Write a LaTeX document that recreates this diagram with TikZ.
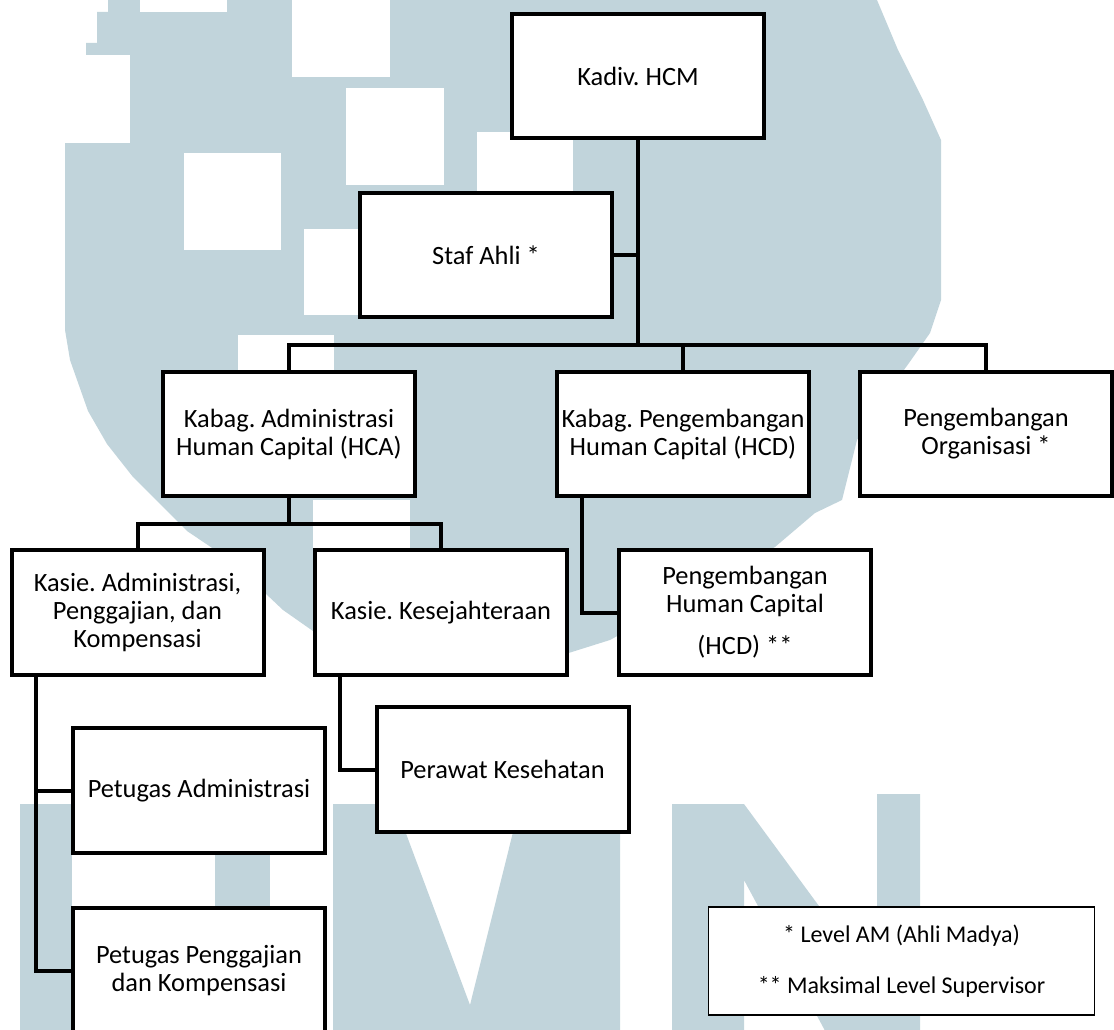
\documentclass[tikz,border=0pt]{standalone}
\usepackage{fontspec}
\setmainfont{Carlito}
\usepackage{tikz}
\usetikzlibrary{positioning, calc}
\definecolor{umnblue}{RGB}{193,212,219}
\newcommand{\orgfont}{\frenchspacing\fontsize{19.8pt}{21pt}\selectfont}
\newcommand{\notefont}{\frenchspacing\fontsize{18pt}{20pt}\selectfont}
\tikzset{
  orgbox/.style={rectangle, draw=black, line width=3pt, fill=white,
              minimum width=189pt, minimum height=93.5pt, inner sep=1pt, font=\orgfont, align=center},
  notebox/.style={rectangle, draw=black, line width=0.9pt, fill=white,
              minimum width=290pt, minimum height=81pt, font=\notefont, align=center},
  link/.style={line width=3pt, draw=black},
}

\begin{document}
\begin{tikzpicture}[x=0.75pt, y=-0.75pt]
  \useasboundingbox (0,0) rectangle (1114,1030);
  \clip (0,0) rectangle (1114,1030);
  \fill[umnblue] (108,-5) -- (108,12) -- (97,12) -- (97,43) -- (86,43) -- (86,143) -- (65,143)
    -- (65,330) -- (70,360) -- (88,411) -- (107,444) -- (133,477) -- (160,504) -- (187,531)
    -- (230,560) -- (283,610) -- (340,650) -- (445,672) -- (540,662) -- (610,640) -- (700,590)
    -- (775,547) -- (815,513) -- (842,500) -- (857,440) -- (882,400) -- (909,363) -- (930,333)
    -- (941,300) -- (941,140) -- (923,100) -- (898,50) -- (877,0) -- (877,-5) -- cycle;
  \foreach \xa/\ya/\xb/\yb in {292/-5/390/77, 346/88/444/185, 184/153/281/250, 304/229/400/315,
      477/132/573/228, 140/-60/227/12, 30/55/130/143, 238/335/334/372, 313/500/410/549}
    \fill[white] (\xa,\ya) rectangle (\xb,\yb);
  \fill[umnblue] (20,804) rectangle (72,1040);
  \fill[umnblue] (215,804) rectangle (270,1040);
  \fill[umnblue] (333,804) -- (395,804) -- (470,1005) -- (520,804) -- (620,804) -- (620,1040)
    -- (333,1040) -- cycle;
  \fill[umnblue] (672,804) -- (744,804) -- (877,985) -- (877,794) -- (920,794) -- (920,1040)
    -- (830,1040) -- (744,880) -- (744,1040) -- (672,1040) -- cycle;

  \node[orgbox] (kadiv) at (638,76) {Kadiv. HCM};
  \node[orgbox] (staf) at (486,255) {Staf Ahli *};
  \node[orgbox] (hca) at (289,434) {Kabag. Administrasi\\Human Capital (HCA)};
  \node[orgbox] (hcd) at (683,434) {Kabag. Pengembangan\\Human Capital (HCD)};
  \node[orgbox] (org) at (986,434) {Pengembangan\\Organisasi *};
  \node[orgbox] (kasieadm) at (137.5,612.5) {Kasie. Administrasi,\\Penggajian, dan\\Kompensasi};
  \node[orgbox] (kasiekes) at (441,612.5) {Kasie. Kesejahteraan};
  \node[orgbox] (phcd) at (745,612.5) {Pengembangan\\Human Capital\\[10.5pt](HCD) **};
  \node[orgbox] (ptgadm) at (199,790.5) {Petugas Administrasi};
  \node[orgbox] (perawat) at (502.5,769.5) {Perawat Kesehatan};
  \node[orgbox] (ptgpeng) at (199,970.5) {Petugas Penggajian\\dan Kompensasi};
  \node[notebox] (legend) at (901.5,961) {* Level AM (Ahli Madya)\\[18pt]** Maksimal Level Supervisor};

  \coordinate (bus) at (638,345);
  \coordinate (hcajoin) at (289,524);
  \draw[link] (kadiv.south) -- (bus);
  \draw[link] (staf.east) -- (staf.east -| bus);
  \draw[link] (hca.north) |- (bus) -| (org.north);
  \draw[link] (hcd.north) -- (hcd.north |- bus);
  \draw[link] (hca.south) -- (hcajoin);
  \draw[link] (kasieadm.north) |- (hcajoin) -| (kasiekes.north);
  \draw[link] ($(hcd.south west)+(27,0)$) |- (phcd.west);
  \draw[link] ($(kasieadm.south west)+(26,0)$) |- (ptgadm.west);
  \draw[link] ($(kasieadm.south west)+(26,0)$) |- (ptgpeng.west);
  \draw[link] ($(kasiekes.south west)+(27,0)$) |- (perawat.west);
\end{tikzpicture}
\end{document}
